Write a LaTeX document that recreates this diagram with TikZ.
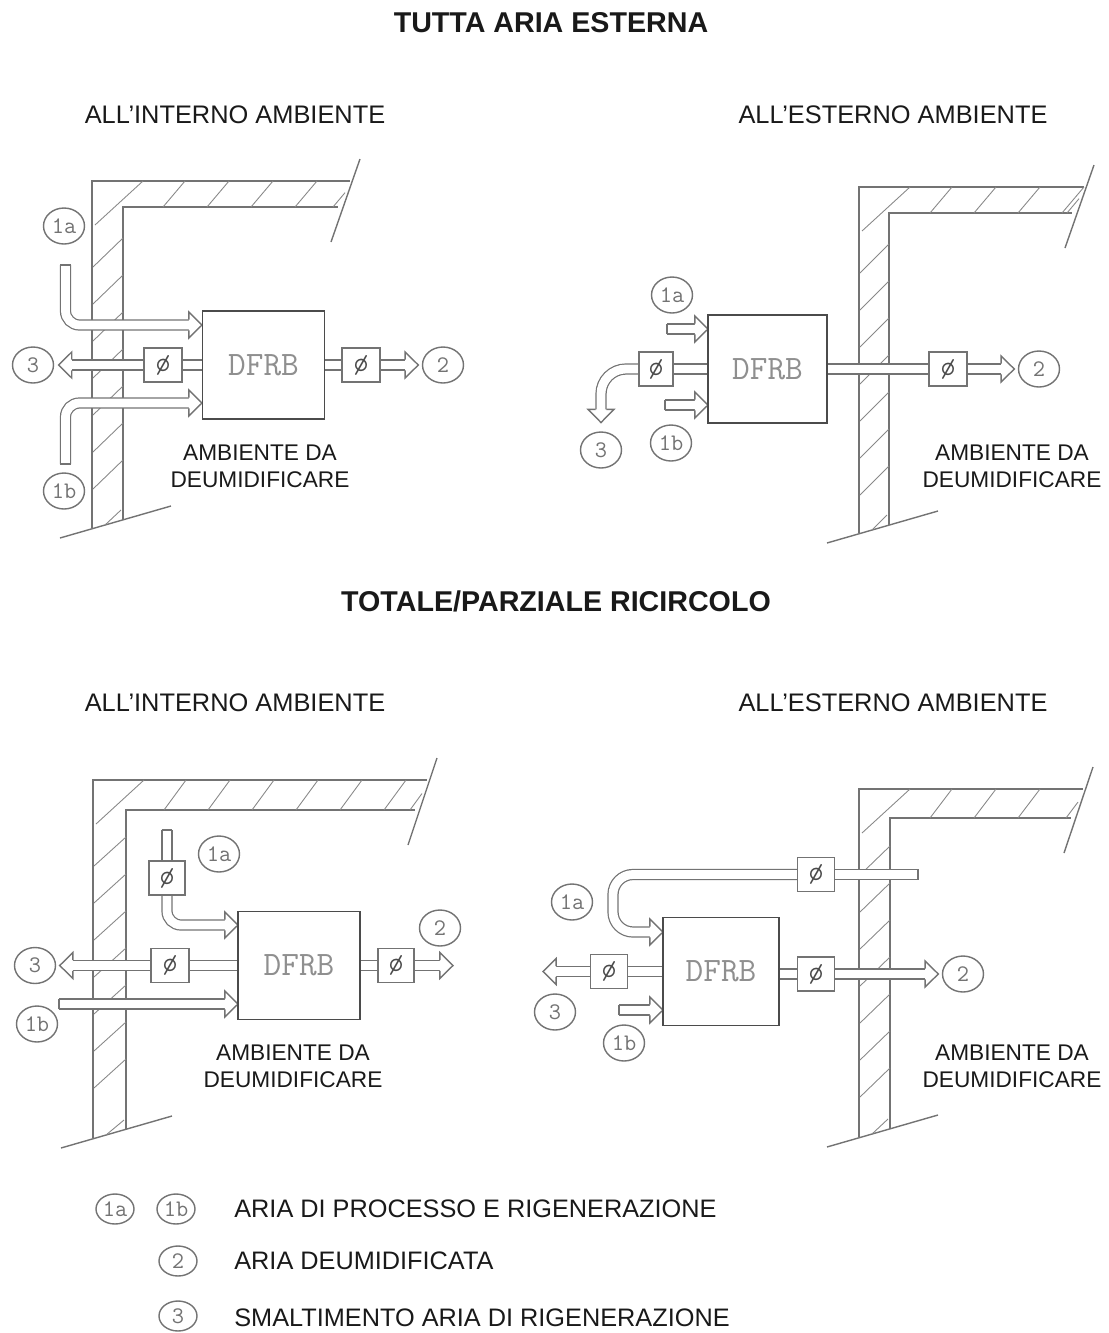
\documentclass[tikz,border=0pt]{standalone}
\usepackage{fontspec}
\setmainfont{Liberation Sans}
\usepackage{tikz}
\usetikzlibrary{shapes.geometric,backgrounds}
\definecolor{pencil}{RGB}{115,115,115}
\definecolor{ink}{RGB}{75,75,75}
\definecolor{print}{RGB}{25,25,25}
\pgfdeclarearrow{
  name=DuctHead,
  setup code={\pgfarrowssettipend{0pt}\pgfarrowssetbackend{-7.5pt}\pgfarrowssetlineend{-7pt}},
  drawing code={
    \pgfsetlinewidth{0.8pt}\pgfsetmiterjoin\pgfsetfillcolor{white}
    \pgfpathmoveto{\pgfqpoint{-7.5pt}{3pt}}
    \pgfpathlineto{\pgfqpoint{-7.5pt}{7.4pt}}
    \pgfpathlineto{\pgfqpoint{0pt}{0pt}}
    \pgfpathlineto{\pgfqpoint{-7.5pt}{-7.4pt}}
    \pgfpathlineto{\pgfqpoint{-7.5pt}{-3pt}}
    \pgfusepathqfillstroke
  }
}
\pgfdeclarearrow{
  name=DuctCap,
  setup code={\pgfarrowssettipend{0pt}\pgfarrowssetbackend{0pt}\pgfarrowssetlineend{0pt}},
  drawing code={
    \pgfsetlinewidth{0.8pt}
    \pgfpathmoveto{\pgfqpoint{0pt}{3.1pt}}
    \pgfpathlineto{\pgfqpoint{0pt}{-3.1pt}}
    \pgfusepathqstroke
  }
}
\begin{document}
\begin{tikzpicture}[x=0.02cm,y=-0.02cm]
\tikzset{
  wallline/.style={draw=pencil,line width=0.8pt},
  hatchline/.style={draw=pencil!85,line width=0.5pt},
  duct/.style={draw=pencil,line width=0.7pt,double=white,double distance=5pt,rounded corners=0.28cm},
  unit/.style={draw=ink,line width=1pt,fill=white,minimum width=2.44cm,minimum height=2.16cm,text=pencil!80,font=\ttfamily\fontsize{19.5}{19.5}\selectfont},
  damper/.style={draw=pencil,line width=0.8pt,fill=white,minimum width=0.76cm,minimum height=0.68cm,inner sep=0pt,text=ink,font=\ttfamily\fontsize{16}{16}\selectfont},
  tag/.style={draw=pencil,line width=0.8pt,ellipse,fill=white,minimum width=0.82cm,minimum height=0.72cm,inner sep=0pt,text=pencil,font=\ttfamily\fontsize{13.5}{13.5}\selectfont},
  keytag/.style={tag,minimum width=0.76cm,minimum height=0.6cm},
  heading/.style={text=print,font=\bfseries\fontsize{16.3}{18}\selectfont,inner sep=0pt},
  subhead/.style={text=print,font=\fontsize{14.45}{17}\selectfont,inner sep=0pt},
  note/.style={text=print,font=\fontsize{12.9}{15.3}\selectfont,align=center,inner sep=0pt},
  legend/.style={text=print,anchor=west,font=\fontsize{14.4}{17}\selectfont,inner sep=0pt}
}
\useasboundingbox (0,0) rectangle (1109,1333);

\node[heading] (titleA) at (551,23) {TUTTA ARIA ESTERNA};
\node[subhead] (subA) at (235,115) {ALL'INTERNO AMBIENTE};
\node[subhead] (subB) at (893,115) {ALL'ESTERNO AMBIENTE};
\node[heading] (titleB) at (556,601) {TOTALE/PARZIALE RICIRCOLO};
\node[subhead] (subC) at (235,703) {ALL'INTERNO AMBIENTE};
\node[subhead] (subD) at (893,703) {ALL'ESTERNO AMBIENTE};

% tutta aria esterna, interno
\node[unit] (dfrbA) at (263.5,365) {DFRB};
\node[damper] (damA3) at (163,365) {ø};
\node[damper] (damA2) at (361,365) {ø};
\node[tag] (tagA1a) at (64,226) {1a};
\node[tag] (tagA1b) at (64,491) {1b};
\node[tag] (tagA3) at (33,365) {3};
\node[tag] (tagA2) at (443,365) {2};
\node[note] (noteA) at (260,466) {AMBIENTE DA\\DEUMIDIFICARE};
\coordinate (a1s) at (65.5,265);
\coordinate (a1e) at (202,325);
\coordinate (b1s) at (65.5,464);
\coordinate (b1e) at (202,403);

% tutta aria esterna, esterno
\node[unit,minimum width=2.38cm] (dfrbB) at (767.5,369) {DFRB};
\node[damper,minimum width=0.68cm] (damB3) at (656,369) {ø};
\node[damper] (damB2) at (948,369) {ø};
\node[tag] (tagB1a) at (672,295) {1a};
\node[tag] (tagB1b) at (671,443) {1b};
\node[tag] (tagB3) at (601,450) {3};
\node[tag] (tagB2) at (1039,369) {2};
\node[note] (noteB) at (1012,466) {AMBIENTE DA\\DEUMIDIFICARE};
\coordinate (c1s) at (667,329);
\coordinate (c1e) at (708,329);
\coordinate (d1s) at (665,405);
\coordinate (d1e) at (708,405);

% ricircolo, interno
\node[unit] (dfrbC) at (299,965.5) {DFRB};
\node[damper] (damC3) at (170,965.5) {ø};
\node[damper,minimum width=0.72cm] (damC2) at (396,965.5) {ø};
\node[damper,minimum width=0.72cm] (damC1) at (167,878) {ø};
\node[tag] (tagC1a) at (219,854) {1a};
\node[tag] (tagC1b) at (37,1024) {1b};
\node[tag] (tagC3) at (35,965.5) {3};
\node[tag] (tagC2) at (440,928) {2};
\node[note] (noteC) at (293,1066) {AMBIENTE DA\\DEUMIDIFICARE};
\coordinate (e1s) at (167,830);
\coordinate (e1e) at (238,925);
\coordinate (f1s) at (59,1004);
\coordinate (f1e) at (238,1004);
\coordinate (g1e) at (453,965.5);

% ricircolo, esterno
\node[unit,minimum width=2.32cm] (dfrbD) at (721,971.5) {DFRB};
\node[damper,minimum width=0.74cm] (damD3) at (609,971.5) {ø};
\node[damper,minimum width=0.74cm] (damD2) at (816,974) {ø};
\node[damper,minimum width=0.74cm] (damD1) at (816,874.5) {ø};
\node[tag] (tagD1a) at (572,902) {1a};
\node[tag] (tagD1b) at (624,1043) {1b};
\node[tag] (tagD3) at (555,1012) {3};
\node[tag] (tagD2) at (963,974) {2};
\node[note] (noteD) at (1012,1066) {AMBIENTE DA\\DEUMIDIFICARE};
\coordinate (h1s) at (918,874.5);
\coordinate (h1c) at (613,874.5);
\coordinate (h1e) at (663,932);
\coordinate (i1s) at (619,1010);
\coordinate (i1e) at (663,1010);
\coordinate (j1e) at (543,971.5);

% legenda
\node[keytag] (key1a) at (115,1209) {1a};
\node[keytag] (key1b) at (176,1209) {1b};
\node[keytag] (key2) at (178,1261) {2};
\node[keytag] (key3) at (178,1316) {3};
\node[legend] (txt1) at (234,1209) {ARIA DI PROCESSO E RIGENERAZIONE};
\node[legend] (txt2) at (234,1261) {ARIA DEUMIDIFICATA};
\node[legend] (txt3) at (234,1318) {SMALTIMENTO ARIA DI RIGENERAZIONE};

\begin{scope}[on background layer]
\foreach \wx/\wy/\ww/\wh/\wd/\wt in {92/181/258/347/26/31,859/187/225/346/26/30,93/780/334/358/30/33,859/789/224/348/29/31}{
  \begin{scope}[shift={(\wx,\wy)}]
    \draw[wallline] (0,\wh) -- (0,0) -- (\ww,0);
    \draw[wallline] (\wt,\wh-8) -- (\wt,\wd) -- (\ww-12,\wd);
    \draw[wallline] (\ww+10,-22) -- (\ww-19,\wd+35);
    \draw[wallline] (-32,\wh+10) -- (79,\wh-22);
    \draw[hatchline] (51,0) -- (3,44);
    \foreach \hx in {93,137,...,\ww}
      \draw[hatchline] (\hx,0) -- (\hx-22,\wd);
    \draw[hatchline] (\ww-5,\wd*0.45) -- (\ww-17,\wd);
    \pgfmathsetmacro\hend{\wh-50}
    \foreach \hy in {57,94,...,\hend}
      \draw[hatchline] (\wt,\hy) -- (1,\hy+29);
    \draw[hatchline] (\wt-2,\wh-18) -- (13,\wh-3);
  \end{scope}
}
\draw[duct,{DuctCap}-{DuctHead}] (a1s) |- (a1e);
\draw[duct,{DuctCap}-{DuctHead}] (b1s) |- (b1e);
\draw[duct] (dfrbA) -- (damA3);
\draw[duct,-{DuctHead},shorten >=2.5pt] (damA3) -- (tagA3);
\draw[duct] (dfrbA) -- (damA2);
\draw[duct,-{DuctHead},shorten >=2pt] (damA2) -- (tagA2);

\draw[duct,{DuctCap}-{DuctHead}] (c1s) -- (c1e);
\draw[duct,{DuctCap}-{DuctHead}] (d1s) -- (d1e);
\draw[duct] (dfrbB) -- (damB3);
\draw[duct,-{DuctHead},rounded corners=0.5cm,shorten >=5pt] (damB3) -| (tagB3);
\draw[duct] (dfrbB) -- (damB2);
\draw[duct,-{DuctHead},shorten >=2pt] (damB2) -- (tagB2);

\draw[duct,{DuctCap}-] (e1s) -- (damC1);
\draw[duct,-{DuctHead}] (damC1) |- (e1e);
\draw[duct,{DuctCap}-{DuctHead}] (f1s) -- (f1e);
\draw[duct] (dfrbC) -- (damC3);
\draw[duct,-{DuctHead},shorten >=2pt] (damC3) -- (tagC3);
\draw[duct] (dfrbC) -- (damC2);
\draw[duct,-{DuctHead}] (damC2) -- (g1e);

\draw[duct,{DuctCap}-] (h1s) -- (damD1);
\draw[duct,-{DuctHead},rounded corners=0.4cm] (damD1) -- (h1c) |- (h1e);
\draw[duct,{DuctCap}-{DuctHead}] (i1s) -- (i1e);
\draw[duct] (dfrbD) -- (damD3);
\draw[duct,-{DuctHead}] (damD3) -- (j1e);
\draw[duct] (dfrbD.east|-damD2) -- (damD2);
\draw[duct,-{DuctHead},shorten >=2pt] (damD2) -- (tagD2);
\end{scope}
\end{tikzpicture}
\end{document}
